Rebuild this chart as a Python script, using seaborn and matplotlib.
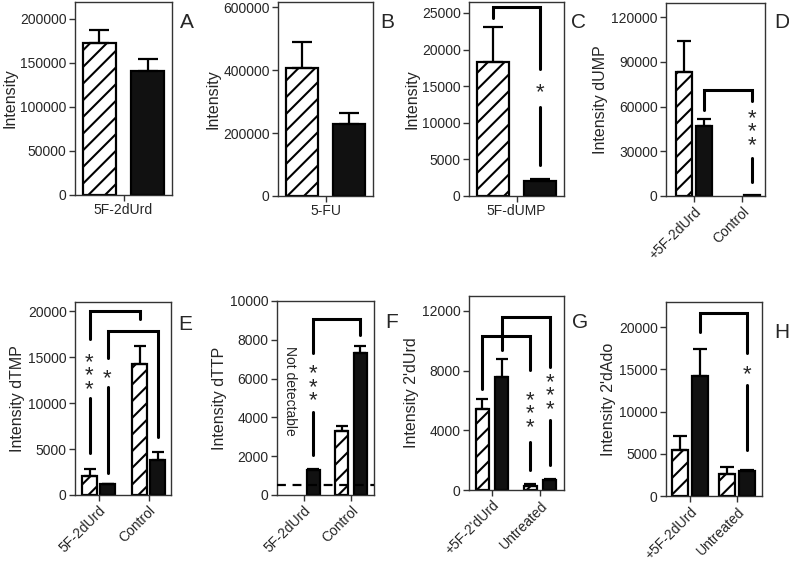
import numpy as np
import pandas as pd
import matplotlib
matplotlib.use("Agg")
import matplotlib.pyplot as plt
import matplotlib.transforms as mtransforms
import seaborn as sns

sns.set_style("ticks")
plt.rcParams["font.family"] = ["Liberation Sans", "DejaVu Sans"]
plt.rcParams["hatch.linewidth"] = 1.5

groups = ["hatched", "solid"]

# means and sem per panel (hatched = first treatment, solid = second)
a_cats = ["5F-2dUrd"]
a_hatched, a_hatched_sem = [173000], [14000]
a_solid, a_solid_sem = [141000], [13000]

b_cats = ["5-FU"]
b_hatched, b_hatched_sem = [405000], [83000]
b_solid, b_solid_sem = [229000], [36000]

c_cats = ["5F-dUMP"]
c_hatched, c_hatched_sem = [18300], [4800]
c_solid, c_solid_sem = [2100], [200]

d_cats = ["+5F-2dUrd", "Control"]
d_hatched, d_hatched_sem = [83000, np.nan], [21000, np.nan]
d_solid, d_solid_sem = [47000, 600], [4500, 0]

e_cats = ["5F-2dUrd", "Control"]
e_hatched, e_hatched_sem = [2100, 14200], [700, 2000]
e_solid, e_solid_sem = [1150, 3800], [100, 900]

f_cats = ["5F-2dUrd", "Control"]
f_hatched, f_hatched_sem = [np.nan, 3300], [np.nan, 250]
f_solid, f_solid_sem = [1300, 7300], [50, 400]
f_limit = 500

g_cats = ["+5F-2'dUrd", "Untreated"]
g_hatched, g_hatched_sem = [5400, 300], [700, 100]
g_solid, g_solid_sem = [7600, 700], [1200, 50]

h_cats = ["+5F-2dUrd", "Untreated"]
h_hatched, h_hatched_sem = [5400, 2600], [1700, 800]
h_solid, h_solid_sem = [14200, 3000], [3200, 100]

# significance: bracket = (cat1, grp1, cat2, grp2, top, left_end, right_end)
# marks = (cat, grp, stars, star centre y, line from, line to)
c_brackets = [(0, 0, 0, 1, 25800, 24300, 17300)]
c_marks = [(0, 1, "*", 14700, 12200, 4300)]
d_brackets = [(0, 1, 1, 1, 71000, 57700, 64000)]
d_marks = [(1, 1, "***", 45600, 25500, 9400)]
e_brackets = [(0, 0, 1, 0, 20000, 17000, 19100), (0, 1, 1, 1, 17860, 14900, 6340)]
e_marks = [(0, 0, "***", 13370, 10540, 4560), (0, 1, "*", 13040, 11740, 2390)]
f_brackets = [(0, 1, 1, 1, 9070, 7300, 8240)]
f_marks = [(0, 1, "***", 5760, 4280, 2060)]
g_brackets = [(0, 0, 1, 0, 10320, 6770, 8040), (0, 1, 1, 1, 11620, 9390, 8270)]
g_marks = [(1, 0, "***", 5360, 3240, 1340), (1, 1, "***", 6560, 4700, 1680)]
h_brackets = [(0, 1, 1, 1, 21700, 19450, 16900)]
h_marks = [(1, 1, "*", 14900, 13150, 5450)]

panels = [
    dict(letter="A", cats=a_cats, hv=a_hatched, hs=a_hatched_sem, sv=a_solid, ss=a_solid_sem,
         ylabel="Intensity", ylim=219000, yticks=np.arange(0, 200001, 50000),
         box=(75, 2, 172, 195), width=1.0, gap=0.32, xlim=(-0.5, 0.5), cap=7, rot=0,
         brackets=[], marks=[], lpos=(187, 23)),
    dict(letter="B", cats=b_cats, hv=b_hatched, hs=b_hatched_sem, sv=b_solid, ss=b_solid_sem,
         ylabel="Intensity", ylim=616000, yticks=np.arange(0, 600001, 200000),
         box=(278, 2, 373, 196), width=1.0, gap=0.32, xlim=(-0.5, 0.5), cap=7, rot=0,
         brackets=[], marks=[], lpos=(387, 23)),
    dict(letter="C", cats=c_cats, hv=c_hatched, hs=c_hatched_sem, sv=c_solid, ss=c_solid_sem,
         ylabel="Intensity", ylim=26500, yticks=np.arange(0, 25001, 5000),
         box=(469, 2, 564, 196), width=1.0, gap=0.32, xlim=(-0.5, 0.5), cap=7, rot=0,
         brackets=c_brackets, marks=c_marks, lpos=(578, 23)),
    dict(letter="D", cats=d_cats, hv=d_hatched, hs=d_hatched_sem, sv=d_solid, ss=d_solid_sem,
         ylabel="Intensity dUMP", ylim=129400, yticks=np.arange(0, 120001, 30000),
         box=(666, 3, 765, 196), width=0.84, gap=0.19, xlim=(-0.58, 1.48), cap=5, rot=45,
         brackets=d_brackets, marks=d_marks, lpos=(782, 22)),
    dict(letter="E", cats=e_cats, hv=e_hatched, hs=e_hatched_sem, sv=e_solid, ss=e_solid_sem,
         ylabel="Intensity dTMP", ylim=21000, yticks=np.arange(0, 20001, 5000),
         box=(75, 302, 171, 495), width=0.72, gap=0.22, xlim=(-0.47, 1.45), cap=4, rot=45,
         brackets=e_brackets, marks=e_marks, lpos=(185, 325)),
    dict(letter="F", cats=f_cats, hv=f_hatched, hs=f_hatched_sem, sv=f_solid, ss=f_solid_sem,
         ylabel="Intensity dTTP", ylim=10000, yticks=np.arange(0, 10001, 2000),
         box=(277, 301, 374, 495), width=0.8, gap=0.3, xlim=(-0.57, 1.49), cap=4, rot=45,
         brackets=f_brackets, marks=f_marks, lpos=(392, 322)),
    dict(letter="G", cats=g_cats, hv=g_hatched, hs=g_hatched_sem, sv=g_solid, ss=g_solid_sem,
         ylabel="Intensity 2'dUrd", ylim=13000, yticks=np.arange(0, 12001, 4000),
         box=(469, 296, 564, 490), width=0.8, gap=0.33, xlim=(-0.48, 1.5), cap=4, rot=45,
         brackets=g_brackets, marks=g_marks, lpos=(580, 322)),
    dict(letter="H", cats=h_cats, hv=h_hatched, hs=h_hatched_sem, sv=h_solid, ss=h_solid_sem,
         ylabel="Intensity 2'dAdo", ylim=23000, yticks=np.arange(0, 20001, 5000),
         box=(666, 302, 762, 496), width=0.82, gap=0.17, xlim=(-0.51, 1.53), cap=5, rot=45,
         brackets=h_brackets, marks=h_marks, lpos=(782, 332)),
]

W, H = 789, 563
fig = plt.figure(figsize=(W / 100, H / 100), dpi=100)
spine_col = "#333333"

for p in panels:
    x0, y0, x1, y1 = p["box"]
    ax = fig.add_axes([x0 / W, 1 - y1 / H, (x1 - x0) / W, (y1 - y0) / H])
    n = len(p["cats"])
    df = pd.DataFrame({
        "cat": p["cats"] * 2,
        "grp": [groups[0]] * n + [groups[1]] * n,
        "value": list(p["hv"]) + list(p["sv"]),
    })
    sns.barplot(data=df, x="cat", y="value", hue="grp", hue_order=groups, order=p["cats"],
                palette={"hatched": "white", "solid": "#111111"}, edgecolor="black",
                linewidth=1.6, width=p["width"], gap=p["gap"], errorbar=None,
                legend=False, ax=ax)
    for bar in ax.patches:
        if not np.isfinite(bar.get_height()):
            bar.set_visible(False)
        elif bar.get_facecolor()[0] > 0.5:
            bar.set_hatch("//")

    # one-sided sem bars
    w = p["width"]
    def xpos(cat, grp):
        return cat + (grp - 0.5) * w / 2
    for gi, (vals, sems) in enumerate([(p["hv"], p["hs"]), (p["sv"], p["ss"])]):
        for ci in range(n):
            if np.isfinite(vals[ci]) and sems[ci] > 0:
                ax.errorbar(xpos(ci, gi), vals[ci], yerr=[[0], [sems[ci]]], fmt="none",
                            ecolor="black", elinewidth=1.6, capsize=p["cap"], capthick=1.6,
                            zorder=1)

    for c1, g1, c2, g2, top, le, re in p["brackets"]:
        xa, xb = xpos(c1, g1), xpos(c2, g2)
        ax.plot([xa, xa, xb, xb], [le, top, top, re], color="black", lw=2.2,
                solid_joinstyle="miter", zorder=3)
    # the asterisk glyph sits high in its line box, nudge it down a little
    star_tr = mtransforms.offset_copy(ax.transData, fig=fig, y=-4, units="dots")
    for c, g, stars, sy, l0, l1 in p["marks"]:
        xm = xpos(c, g)
        ax.text(xm, sy, "\n".join(stars), ha="center", va="center", fontsize=16,
                linespacing=0.55, transform=star_tr)
        ax.plot([xm, xm], [l0, l1], color="black", lw=2.2, zorder=3)

    if p["letter"] == "F":
        ax.axhline(f_limit, color="black", lw=1.6, ls=(0, (4, 3)), zorder=4)
        ax.text(xpos(0, 0) - 0.1, 5360, "Not detectable", rotation=-90, ha="center",
                va="center", fontsize=10)

    ax.set_xlim(*p["xlim"])
    ax.set_ylim(0, p["ylim"])
    ax.set_yticks(p["yticks"])
    ax.set_ylabel(p["ylabel"], fontsize=11.5, labelpad=2)
    ax.set_xlabel("")
    if p["rot"]:
        ax.set_xticks(range(n))
        ax.set_xticklabels(p["cats"], rotation=45, ha="right", rotation_mode="anchor")
    for s in ax.spines.values():
        s.set_visible(True)
        s.set_color(spine_col)
        s.set_linewidth(1)
    ax.tick_params(direction="out", length=4, width=1, color=spine_col, labelsize=10, pad=2)
    fig.text(p["lpos"][0] / W, 1 - p["lpos"][1] / H, p["letter"], fontsize=15,
             ha="center", va="center")

fig.savefig("out.png", dpi=100)
